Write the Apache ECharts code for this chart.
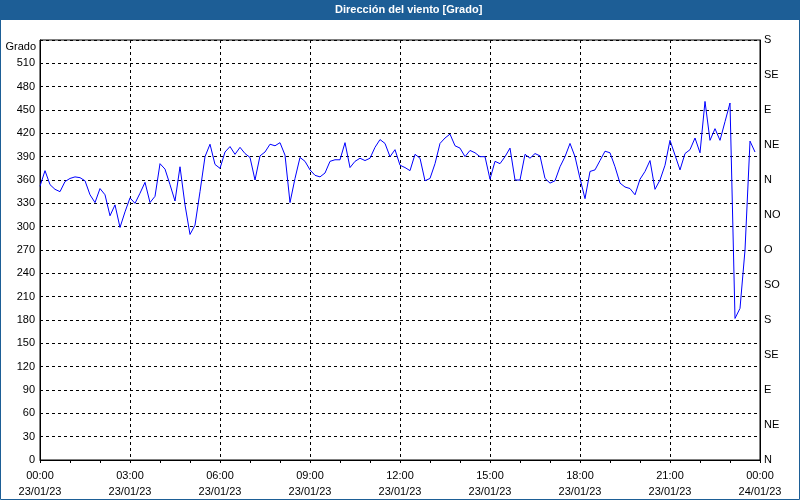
<!DOCTYPE html>
<html>
<head>
<meta charset="utf-8">
<script src="https://cdn.jsdelivr.net/npm/echarts@6/dist/echarts.min.js"></script>
<style>
html,body{margin:0;padding:0;background:#fff;}
#chart{width:800px;height:500px;}
</style>
</head>
<body>
<div id="chart"></div>
<script>
// ---- data ----
const chartTitle = 'Dirección del viento [Grado]';
const yAxisName = 'Grado';
const sampleStepMin = 10; // one reading every 10 minutes from 00:00 23/01/23
const windDir = [
  352,372,354,348,345,358,362,364,363,359,341,331,349,341,314,328,299,319,
  337,330,343,357,331,339,381,374,354,333,377,328,290,302,345,390,406,380,
  375,396,403,393,402,394,389,360,391,396,406,404,408,392,331,362,389,384,
  373,366,364,369,384,386,386,408,376,384,388,385,388,402,412,407,390,399,
  379,376,372,393,388,359,362,381,407,414,419,404,401,390,398,395,390,390,
  361,384,381,390,401,360,360,393,388,394,391,362,356,359,377,390,407,390,
  362,336,371,373,385,397,395,377,356,351,349,341,361,371,385,348,360,379,
  411,392,373,394,399,414,395,461,411,426,411,435,459,182,195,270,410,396
];
const xTickTimes = ['00:00','03:00','06:00','09:00','12:00','15:00','18:00','21:00','00:00'];
const xTickDates = ['23/01/23','23/01/23','23/01/23','23/01/23','23/01/23','23/01/23','23/01/23','23/01/23','24/01/23'];
const compassLabels = ['N','NE','E','SE','S','SO','O','NO','N','NE','E','SE','S'];

// ---- chart ----
const seriesData = windDir.map((v, i) => [i * sampleStepMin, v]);
const FONT = 'Liberation Sans';
const BLUE = '#1d5e96';

const chart = echarts.init(document.getElementById('chart'), null, {renderer: 'canvas'});
chart.setOption({
  animation: false,
  backgroundColor: '#ffffff',
  textStyle: {fontFamily: FONT},
  grid: {left: 40, top: 40, width: 720, height: 420, show: true, borderColor: '#000', borderWidth: 1, backgroundColor: 'transparent'},
  xAxis: {
    type: 'value', min: 0, max: 1440, interval: 180,
    axisLine: {show: true, lineStyle: {color: '#000', width: 1}},
    axisTick: {show: true, length: 3, lineStyle: {color: '#000'}},
    minorTick: {show: true, splitNumber: 3, length: 3, lineStyle: {color: '#000'}},
    splitLine: {show: true, lineStyle: {color: '#000', type: [3, 3], width: 1}},
    axisLabel: {
      margin: 8, color: '#000', fontSize: 11, fontFamily: FONT, lineHeight: 16,
      formatter: v => { const k = Math.round(v / 180); return xTickTimes[k] + '\n' + xTickDates[k]; }
    }
  },
  yAxis: [
    {
      type: 'value', min: 0, max: 540, interval: 30, position: 'left',
      axisLine: {show: true, lineStyle: {color: '#000', width: 1}},
      axisTick: {show: false},
      splitLine: {show: true, lineStyle: {color: '#000', type: [3, 3], width: 1}},
      axisLabel: {
        margin: 5, color: '#000', fontSize: 11, fontFamily: FONT, padding: [4, 0, 0, 0],
        formatter: v => (v >= 540 ? '' : String(v))
      }
    },
    {
      type: 'value', min: 0, max: 540, interval: 45, position: 'right',
      axisLine: {show: true, lineStyle: {color: '#000', width: 1}},
      axisTick: {show: false},
      splitLine: {show: false},
      axisLabel: {
        margin: 4, color: '#000', fontSize: 11, fontFamily: FONT, padding: [4, 0, 0, 0],
        formatter: v => compassLabels[Math.round(v / 45)]
      }
    }
  ],
  series: [{
    type: 'line', data: seriesData, yAxisIndex: 0,
    showSymbol: false, symbol: 'none',
    lineStyle: {color: '#0000ff', width: 1},
    itemStyle: {color: '#0000ff'}
  }],
  graphic: [
    {type: 'rect', left: 0, top: 0, shape: {width: 800, height: 20}, style: {fill: BLUE}, z: 10},
    {type: 'text', left: 335, top: 4, style: {text: chartTitle, fill: '#fff', font: 'bold 11px "Liberation Sans"'}, z: 11},
    {type: 'rect', shape: {x: 0.5, y: 0.5, width: 799, height: 499}, style: {fill: 'none', stroke: BLUE, lineWidth: 1}, z: 10},
    {type: 'text', right: 764, top: 41, style: {text: yAxisName, fill: '#000', font: '11px "Liberation Sans"', align: 'right'}, z: 5}
  ]
});
</script>
</body>
</html>
